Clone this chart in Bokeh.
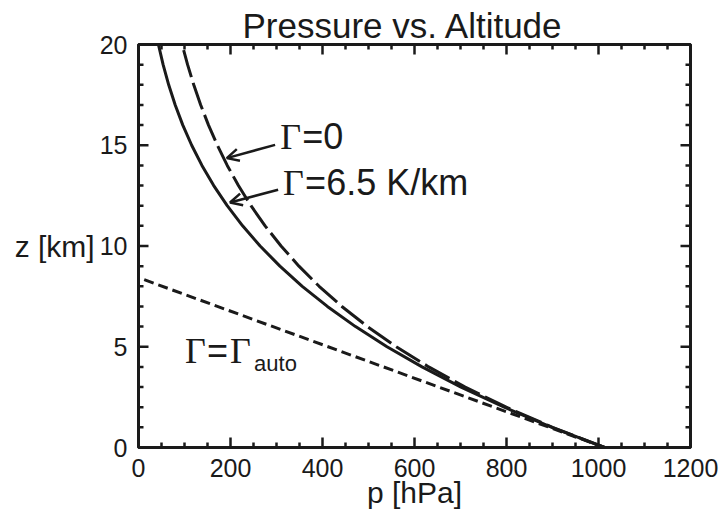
from math import pi
from bokeh.plotting import figure
from bokeh.models import (Range1d, LinearAxis, SingleIntervalTicker, Label, Arrow,
                          OpenHead, ColumnDataSource, CustomJSTickFormatter)
from bokeh.embed import file_html
from bokeh.resources import INLINE

# ---------------- data ----------------
z_levels = [0, 1, 2, 3, 4, 5, 6, 7, 8, 9, 10, 11, 12, 13, 14, 15, 16, 17, 18, 19, 20]
# lapse rate 6.5 K/km (solid)
p_lapse = [1013.2, 898.8, 795.0, 701.1, 616.4, 540.2, 471.8, 410.6, 356.0, 307.4,
           264.4, 226.3, 192.8, 163.5, 137.9, 115.6, 96.3, 79.8, 65.6, 53.5, 43.3]
# isothermal, lapse rate 0 (long dashes)
p_isothermal = [1013.2, 900.0, 799.5, 710.2, 630.8, 560.3, 497.7, 442.1, 392.7, 348.8,
                309.9, 275.2, 244.5, 217.2, 192.9, 171.4, 152.2, 135.2, 120.1, 106.7, 94.8]
# autoconvective lapse rate (short dashes)
z_auto = [0.0, 8.43]
p_auto = [1013.2, 0.0]

# tick positions
x_major_ticks = [0, 200, 400, 600, 800, 1000, 1200]
x_minor_ticks = [50, 100, 150, 250, 300, 350, 450, 500, 550, 650, 700, 750,
                 850, 900, 950, 1050, 1100, 1150]
y_major_ticks = [0, 5, 10, 15, 20]
y_minor_ticks = [1, 2, 3, 4, 6, 7, 8, 9, 11, 12, 13, 14, 16, 17, 18, 19]

# arrows pointing from annotations to the curves
arrow_from_p = [297.0, 303.5]
arrow_from_z = [15.02, 12.79]
arrow_to_p = [192.0, 199.0]
arrow_to_z = [14.36, 12.16]

ink = "#1a1a1a"
sans = "Liberation Sans"
serif = "Liberation Serif"

X_MIN, X_MAX, Y_MIN, Y_MAX = 0, 1200, 0, 20

p = figure(width=724, height=521, output_backend="svg", toolbar_location=None,
           x_range=Range1d(X_MIN, X_MAX), y_range=Range1d(Y_MIN, Y_MAX),
           min_border_left=138, min_border_right=34, min_border_top=44, min_border_bottom=74,
           title="Pressure vs. Altitude")
p.grid.visible = False
p.background_fill_color = "white"
p.border_fill_color = "white"
p.outline_line_color = ink
p.outline_line_width = 3

p.title.text_font = sans
p.title.text_font_size = "35px"
p.title.text_font_style = "normal"
p.title.text_color = ink
p.title.align = "left"
p.title.offset = 104
p.title.standoff = 0


def style_axis(ax, labels=True):
    ax.axis_line_color = ink
    ax.axis_line_width = 3
    ax.major_tick_line_color = None
    ax.minor_tick_line_color = None
    ax.major_tick_in = 0
    ax.major_tick_out = 0
    ax.minor_tick_in = 0
    ax.minor_tick_out = 0
    if labels:
        ax.major_label_text_font = sans
        ax.major_label_text_font_size = "25px"
        ax.major_label_text_color = ink
        ax.major_label_standoff = 11
        ax.axis_label_text_font = sans
        ax.axis_label_text_font_size = "30px"
        ax.axis_label_text_font_style = "normal"
        ax.axis_label_text_color = ink
    else:
        ax.formatter = CustomJSTickFormatter(code="return ''")
        ax.major_label_text_font_size = "0px"
        ax.major_label_standoff = 0


xb = p.xaxis[0]
xb.ticker = SingleIntervalTicker(interval=200, num_minor_ticks=4)
style_axis(xb)
xb.axis_label = "p [hPa]"
xb.axis_label_standoff = -4

yl = p.yaxis[0]
yl.ticker = SingleIntervalTicker(interval=5, num_minor_ticks=5)
style_axis(yl)
yl.axis_label = "z [km]"
yl.axis_label_orientation = "horizontal"
yl.axis_label_standoff = 2

xt = LinearAxis(ticker=SingleIntervalTicker(interval=200, num_minor_ticks=4))
style_axis(xt, labels=False)
p.add_layout(xt, "above")
yr = LinearAxis(ticker=SingleIntervalTicker(interval=5, num_minor_ticks=5))
style_axis(yr, labels=False)
p.add_layout(yr, "right")

# inward ticks on all four sides
def ticks(xs, ys, length, angle):
    p.ray(x=xs, y=ys, length=length, length_units="screen", angle=angle,
          line_color=ink, line_width=2.5)

for tick_list, L in ((x_major_ticks, 10), (x_minor_ticks, 5)):
    ticks(tick_list, [Y_MIN] * len(tick_list), L, pi / 2)
    ticks(tick_list, [Y_MAX] * len(tick_list), L, -pi / 2)
for tick_list, L in ((y_major_ticks, 10), (y_minor_ticks, 5)):
    ticks([X_MIN] * len(tick_list), tick_list, L, 0)
    ticks([X_MAX] * len(tick_list), tick_list, L, pi)

# curves
p.line(p_lapse, z_levels, line_width=3, line_color=ink)
p.line(p_isothermal, z_levels, line_width=3, line_color=ink, line_dash="28 6")
p.line(p_auto, z_auto, line_width=3, line_color=ink, line_dash="10 5")

# arrows
asrc = ColumnDataSource(dict(x0=arrow_from_p, y0=arrow_from_z, x1=arrow_to_p, y1=arrow_to_z))
p.add_layout(Arrow(end=OpenHead(size=12, line_width=2.5, line_color=ink),
                   x_start="x0", y_start="y0", x_end="x1", y_end="y1",
                   source=asrc, line_width=2.5, line_color=ink))


def lab(x, y, text, font=sans, size="36px", dx=0, dy=0):
    p.add_layout(Label(x=x, y=y, text=text, x_offset=dx, y_offset=dy + 12,
                       text_font=font, text_font_size=size, text_color=ink,
                       text_align="left", text_baseline="alphabetic"))


# annotations
lab(307.9, 14.82, "Γ", font=serif)
lab(307.9, 14.82, "=0", dx=22)
lab(314.4, 12.54, "Γ", font=serif)
lab(314.4, 12.54, "=6.5 K/km", dx=22)
lab(101.2, 4.21, "Γ", font=serif)
lab(101.2, 4.21, "=", dx=22)
lab(101.2, 4.21, "Γ", font=serif, dx=45)
lab(101.2, 4.21, "auto", size="22px", dx=69, dy=-13)

open("out.html", "w").write(file_html(p, INLINE))
